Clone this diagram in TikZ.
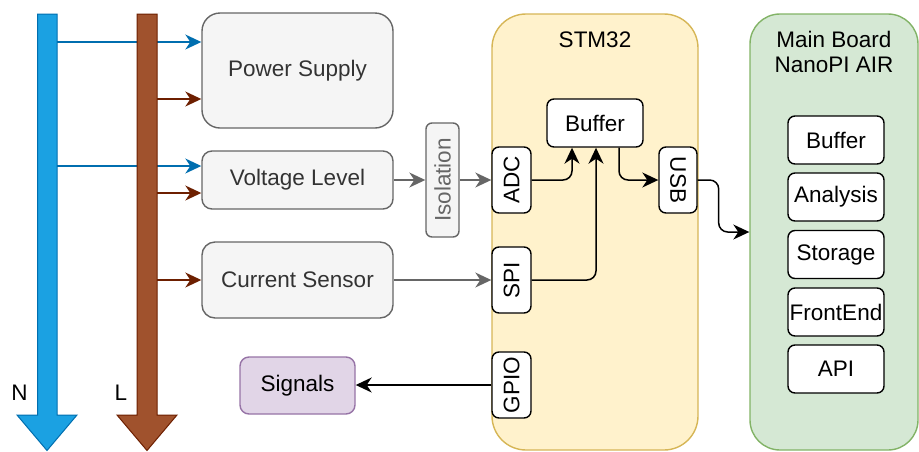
\documentclass[tikz,border=0pt]{standalone}
\usepackage{fontspec}
\usepackage{graphicx}
\setmainfont{Liberation Sans}
\usetikzlibrary{arrows.meta,calc}
\definecolor{nfill}{HTML}{1BA1E2}
\definecolor{nline}{HTML}{006EAF}
\definecolor{lfill}{HTML}{A0522D}
\definecolor{lline}{HTML}{6D1F00}
\definecolor{gfill}{HTML}{F5F5F5}
\definecolor{gline}{HTML}{666666}
\definecolor{gtext}{HTML}{333333}
\definecolor{yfill}{HTML}{FFF2CC}
\definecolor{yline}{HTML}{D6B656}
\definecolor{mfill}{HTML}{D5E8D4}
\definecolor{mline}{HTML}{82B366}
\definecolor{pfill}{HTML}{E1D5E7}
\definecolor{pline}{HTML}{9673A6}
\begin{document}
\begin{tikzpicture}[x=1pt,y=-1pt,
  font=\fontsize{22.5}{26}\selectfont,
  graybox/.style={draw=gline, fill=gfill, text=gtext, line width=1.4pt, inner sep=0pt},
  whitebox/.style={draw=black, fill=white, text=black, line width=1.4pt, inner sep=0pt, rounded corners=7pt},
  conn/.style={line width=1.5pt, -{Stealth[length=16pt,width=15pt,inset=5pt]}},
  tip/.style={-{Stealth[length=16pt,width=15pt,inset=5pt]}}
]
\useasboundingbox (0,0) rectangle (919,451);

% containers
\node[draw=yline, fill=yfill, line width=1.4pt, rounded corners=34pt, minimum width=206pt, minimum height=436pt, inner sep=0pt] (stm) at (595,232) {};
\node (stmt) at (595,40) {STM32};
\node[draw=mline, fill=mfill, line width=1.4pt, rounded corners=30pt, minimum width=168pt, minimum height=436pt, inner sep=0pt] (mb) at (834,232) {};
\node[align=center, font=\fontsize{22.5}{25}\selectfont] (mbt) at (834,52) {Main Board\\NanoPI AIR};

% left boxes
\node[graybox, rounded corners=18pt, minimum width=191pt, minimum height=115pt] (ps) at (297.5,70.5) {Power Supply};
\node[graybox, rounded corners=10pt, minimum width=191pt, minimum height=58pt] (vl) at (297.5,180) {Voltage Level};
\node[graybox, rounded corners=13pt, minimum width=191pt, minimum height=76pt] (cs) at (297.5,280) {Current Sensor};
\node[draw=pline, fill=pfill, line width=1.4pt, rounded corners=9pt, minimum width=115pt, minimum height=57pt, inner sep=0pt] (sig) at (297.5,385.5) {Signals};
\node[graybox, text=gline, rounded corners=6pt, minimum width=33pt, minimum height=114pt] (iso) at (442.5,180) {\rotatebox{90}{Isolation}};

% STM32 parts
\node[whitebox, minimum width=39pt, minimum height=66pt] (adc) at (511.5,180) {\rotatebox{90}{ADC}};
\node[whitebox, minimum width=39pt, minimum height=66pt] (spi) at (511.5,280) {\rotatebox{90}{SPI}};
\node[whitebox, minimum width=39pt, minimum height=66pt] (gpio) at (511.5,385) {\rotatebox{90}{GPIO}};
\node[whitebox, minimum width=38pt, minimum height=66pt] (usb) at (678,180) {\rotatebox{-90}{USB}};
\node[whitebox, minimum width=96pt, minimum height=48pt] (buf) at (595,123) {Buffer};

% main board parts
\node[whitebox, minimum width=96pt, minimum height=48pt] (mbuf) at (836,140) {Buffer};
\node[whitebox, minimum width=96pt, minimum height=48pt] (ana) at (836,197) {Analysis};
\node[whitebox, minimum width=96pt, minimum height=48pt] (sto) at (836,254.5) {Storage};
\node[whitebox, minimum width=96pt, minimum height=48pt] (fe) at (836,312) {FrontEnd};
\node[whitebox, minimum width=96pt, minimum height=48pt] (api) at (836,369) {API};

% N bus
\filldraw[fill=nfill, draw=nline, line width=1pt] (37.5,14) -- (57,14) -- (57,415) -- (77,415) -- (47,450.5) -- (17,415) -- (37.5,415) -- cycle;
\node (nlab) at (19.5,393) {N};
\coordinate (n1) at (57,42);
\coordinate (n2) at (57,166);
\draw[nline, line width=1.5pt, tip] (n1) -- (n1 -| ps.west);
\draw[nline, line width=1.5pt, tip] (n2) -- (n2 -| vl.west);

% L bus
\filldraw[fill=lfill, draw=lline, line width=1pt] (137,14) -- (157,14) -- (157,415) -- (177,415) -- (147,450.5) -- (117,415) -- (137,415) -- cycle;
\node (llab) at (121,393) {L};
\coordinate (l1) at (157,99);
\coordinate (l2) at (157,193);
\coordinate (l3) at (157,280);
\draw[lline, line width=1.5pt, tip] (l1) -- (l1 -| ps.west);
\draw[lline, line width=1.5pt, tip] (l2) -- (l2 -| vl.west);
\draw[lline, line width=1.5pt, tip] (l3) -- (l3 -| cs.west);

% gray connectors
\draw[conn, gline] (vl.east) -- (iso.west);
\draw[conn, gline] (iso.east) -- (adc.west);
\draw[conn, gline] (cs.east) -- (spi.west);

% black connectors
\draw[conn, rounded corners=9pt] (adc.east) -| ($(buf.south)+(-23,0)$);
\draw[conn, rounded corners=9pt] (spi.east) -| ($(buf.south)+(1,0)$);
\draw[conn, rounded corners=9pt] ($(buf.south)+(24,0)$) |- (usb.west);
\draw[conn, rounded corners=9pt] (usb.east) -- ++(21,0) |- (mb.west);
\draw[conn] (gpio.west) -- (gpio.west -| sig.east);
\end{tikzpicture}
\end{document}
